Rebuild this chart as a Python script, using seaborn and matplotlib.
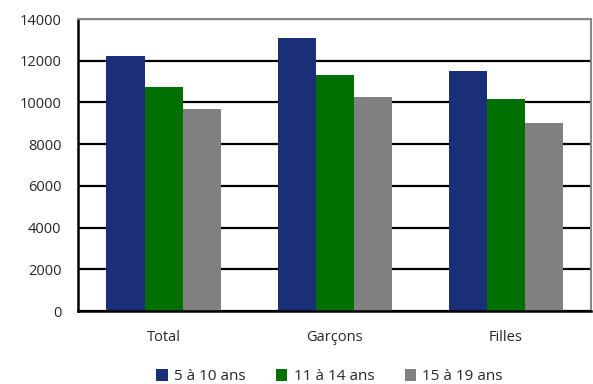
import matplotlib
matplotlib.use("Agg")
import matplotlib.pyplot as plt
import seaborn as sns
import pandas as pd

categories = ["Total", "Garçons", "Filles"]
series_names = ["5 à 10 ans", "11 à 14 ans", "15 à 19 ans"]
v_5_10 = [12230, 13090, 11510]
v_11_14 = [10750, 11320, 10180]
v_15_19 = [9700, 10270, 9030]
y_ticks = [0, 2000, 4000, 6000, 8000, 10000, 12000, 14000]
colors = ["#1B2F78", "#007000", "#808080"]

rows = []
for name, vals in zip(series_names, [v_5_10, v_11_14, v_15_19]):
    for c, v in zip(categories, vals):
        rows.append({"cat": c, "serie": name, "val": v})
df = pd.DataFrame(rows)

sns.set_style("white")
plt.rcParams['font.family'] = ['Open Sans', 'DejaVu Sans']

fig = plt.figure(figsize=(5.93, 3.84), dpi=100)
ax = fig.add_axes([0.1315, 0.19, 0.8655, 0.7605])
sns.barplot(data=df, x="cat", y="val", hue="serie", order=categories,
            hue_order=series_names, palette=colors, width=0.667,
            saturation=1, ax=ax, legend=True, linewidth=0, gap=0)

ax.set_xlim(-0.5, 2.5)
ax.set_ylim(0, 14000)
ax.set_yticks(y_ticks)
ax.set_yticklabels([str(t) for t in y_ticks], fontsize=10.5)
ax.tick_params(axis='x', labelsize=10.5, length=0, pad=14)
ax.tick_params(axis='y', length=0, pad=12)
ax.set_xlabel("")
ax.set_ylabel("")
ax.yaxis.grid(True, color="black", linewidth=1.6)
ax.set_axisbelow(True)
for s in ["left", "bottom"]:
    ax.spines[s].set_color("black")
    ax.spines[s].set_linewidth(1.8)
for s in ["top", "right"]:
    ax.spines[s].set_color("#888888")
    ax.spines[s].set_linewidth(1.5)

handles, labels = ax.get_legend_handles_labels()
ax.legend(handles, labels, loc="center", bbox_to_anchor=(0.49, -0.225),
          ncol=3, frameon=False, fontsize=11, handlelength=0.75,
          handleheight=0.8, handletextpad=0.4, columnspacing=2.0)

fig.savefig("out.png", dpi=100)
